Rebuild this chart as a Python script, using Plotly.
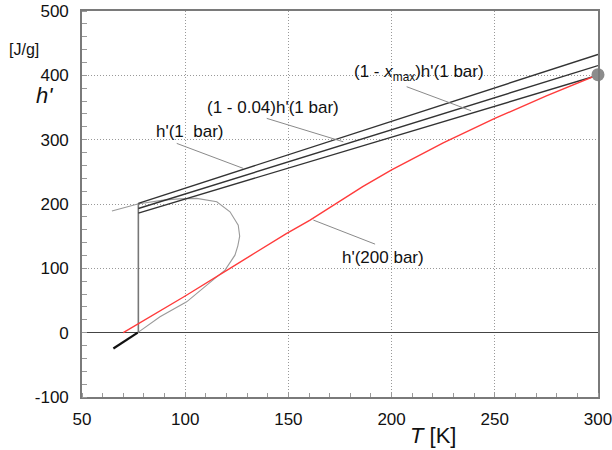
import plotly.graph_objects as go

# Enthalpy of the vapour at 1 bar (straight line from saturation to 300 K)
t_1bar = [77.3, 300.0]
h_1bar = [201.0, 432.5]
# scale factors for the three vapour lines: h', (1 - 0.04)h', (1 - x_max)h'
line_factors = [1.0, 0.96, 0.925]

# Liquid enthalpy at 200 bar
t_200bar = [70.0, 100.0, 121.7, 136.0, 149.0, 160.5, 172.5, 186.0, 200.0, 225.0, 250.0, 275.0, 300.0]
h_200bar = [0.0, 57.0, 100.0, 128.5, 154.0, 175.0, 200.0, 227.0, 253.0, 295.0, 333.0, 368.0, 401.0]

# Two-phase boundary (grey curve)
t_dome = [64.5, 77.0, 89.4, 97.0, 105.6, 115.3, 121.7, 125.7, 126.4, 125.5, 124.1, 121.5,
          119.3, 114.4, 110.4, 100.7, 87.8, 77.0]
h_dome = [189.0, 200.0, 206.0, 208.0, 208.7, 203.4, 187.9, 167.2, 150.0, 135.0, 120.5, 108.0,
          97.2, 84.3, 73.9, 47.9, 24.6, 0.0]

# Saturated liquid at 1 bar: vertical jump and short solid branch
t_jump = [77.3, 77.3]
h_jump = [0.0, 201.0]
t_low = [65.2, 77.0]
h_low = [-24.6, 0.0]

# Final state marker
t_end = [300.0]
h_end = [401.0]

x_ticks = [50, 100, 150, 200, 250, 300]
x_tick_text = ["50", "100", "150", "200", "250", "300"]
y_ticks = [-100, 0, 100, 200, 300, 400, 500]
y_tick_text = ["-100", "0", "100", "200", "300", "400", "500"]

FONT = "Liberation Sans, Arial, sans-serif"

fig = go.Figure()

fig.add_trace(go.Scatter(x=t_dome, y=h_dome, mode="lines",
                         line=dict(color="#9a9a9a", width=1.1), hoverinfo="skip"))
fig.add_trace(go.Scatter(x=t_jump, y=h_jump, mode="lines",
                         line=dict(color="#777777", width=1.6), hoverinfo="skip"))
fig.add_trace(go.Scatter(x=t_low, y=h_low, mode="lines",
                         line=dict(color="#111111", width=2.2), hoverinfo="skip"))
for f in line_factors:
    fig.add_trace(go.Scatter(x=t_1bar, y=[f * v for v in h_1bar], mode="lines",
                             line=dict(color="#333333", width=1.4), hoverinfo="skip"))
fig.add_trace(go.Scatter(x=t_200bar, y=h_200bar, mode="lines",
                         line=dict(color="#ff3b3b", width=1.4), hoverinfo="skip"))
fig.add_trace(go.Scatter(x=t_end, y=h_end, mode="markers", cliponaxis=False,
                         marker=dict(color="#8c8c8c", size=13), hoverinfo="skip"))

# label leader lines
leaders = [
    ([207.3, 238.5], [382.3, 345.0]),
    ([139.5, 176.6], [333.1, 296.7]),
    ([95.9, 128.1], [294.2, 255.4]),
    ([162.1, 192.0], [175.0, 137.6]),
]
for lx, ly in leaders:
    fig.add_trace(go.Scatter(x=lx, y=ly, mode="lines",
                             line=dict(color="#8a8a8a", width=1), hoverinfo="skip"))

labels = [
    (213.3, 403.6, "(1 - <i>x</i><sub>max</sub>)h'(1 bar)"),
    (142.3, 350.2, "(1 - 0.04)h'(1 bar)"),
    (102.3, 312.3, "h'(1  bar)"),
    (195.7, 117.0, "h'(200 bar)"),
]
for lx, ly, txt in labels:
    fig.add_annotation(x=lx, y=ly, text=txt, showarrow=False,
                       font=dict(family=FONT, size=17, color="#111111"),
                       xanchor="center", yanchor="middle")

L, R, T, B = 82, 14, 11, 53
W, H = 612, 450
pw, ph = W - L - R, H - T - B


def px(xp):
    return (xp - L) / pw


def py(yp):
    return (H - B - yp) / ph


fig.add_annotation(xref="paper", yref="paper", x=px(44), y=py(95), text="<i>h'</i>",
                   showarrow=False, font=dict(family=FONT, size=22, color="#111111"),
                   xanchor="center", yanchor="middle")
fig.add_annotation(xref="paper", yref="paper", x=px(24), y=py(49), text="[J/g]",
                   showarrow=False, font=dict(family=FONT, size=16, color="#111111"),
                   xanchor="center", yanchor="middle")
fig.add_annotation(xref="paper", yref="paper", x=px(433), y=py(436), text="<i>T</i> [K]",
                   showarrow=False, font=dict(family=FONT, size=22, color="#111111"),
                   xanchor="center", yanchor="middle")

grid_dash = "1px,2px"

fig.update_layout(
    width=W, height=H,
    margin=dict(l=L, r=R, t=T, b=B, pad=0, autoexpand=False),
    paper_bgcolor="white", plot_bgcolor="white",
    showlegend=False,
    font=dict(family=FONT, size=17, color="#111111"),
    xaxis=dict(range=[50, 300], tickvals=x_ticks, ticktext=x_tick_text, ticks="",
               showgrid=True, gridcolor="#999999", griddash=grid_dash, gridwidth=1,
               showline=True, linecolor="#7a7a7a", linewidth=1.6, mirror=True,
               zeroline=False, ticklabelstandoff=6, automargin=False,
               ticklabeloverflow="allow",
               minor=dict(dtick=10, ticks="inside", ticklen=4, tickcolor="#999999",
                          showgrid=False)),
    yaxis=dict(range=[-100, 500], tickvals=y_ticks, ticktext=y_tick_text, ticks="",
               showgrid=True, gridcolor="#999999", griddash=grid_dash, gridwidth=1,
               showline=True, linecolor="#7a7a7a", linewidth=1.6, mirror=True,
               zeroline=True, zerolinecolor="#444444", zerolinewidth=1.4,
               ticklabelstandoff=8, automargin=False, ticklabeloverflow="allow",
               minor=dict(dtick=20, ticks="inside", ticklen=5, tickcolor="#999999",
                          showgrid=False)),
)

fig.write_html("out.html")
